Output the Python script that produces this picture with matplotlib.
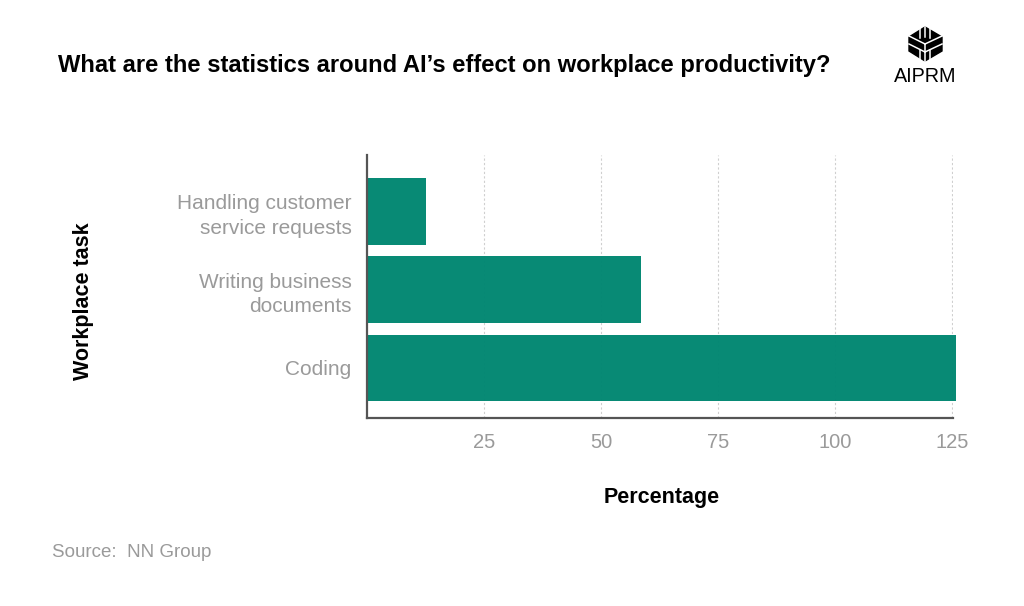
import matplotlib
matplotlib.use("Agg")
import matplotlib.pyplot as plt
from matplotlib.patches import Polygon

plt.rcParams['font.family'] = ['Liberation Sans', 'DejaVu Sans']

categories = ["Handling customer\nservice requests", "Writing business\ndocuments", "Coding"]
values = [12.5, 58.6, 125.8]
ticks = [25, 50, 75, 100, 125]

W, H = 1024, 606
fig = plt.figure(figsize=(W/100, H/100), dpi=100, facecolor='white')
ax = fig.add_axes([367/W, 1-418/H, (953-367)/W, (418-155)/H])
GREEN = '#008671'
GREY = '#9a9a9a'
ax.set_xlim(0, 125.2)
ax.set_ylim(2.64, -0.72)
ax.barh(range(3), values, height=0.85, color=GREEN, alpha=0.97, clip_on=False, zorder=3)
ax.set_yticks(range(3))
ax.set_yticklabels(categories, fontsize=15, color=GREY, linespacing=1.36, ha='right')
ax.get_yticklabels()[0].set_verticalalignment('center_baseline')
ax.set_xticks(ticks)
ax.set_xticklabels([str(t) for t in ticks], fontsize=14.5, color=GREY)
ax.tick_params(axis='y', length=0, pad=11)
ax.tick_params(axis='x', length=0, pad=10.5)
ax.grid(axis='x', color='#cfcfcf', lw=0.8, ls=(0, (2, 2)), zorder=1)
ax.set_axisbelow(True)
for s in ('top', 'right'):
    ax.spines[s].set_visible(False)
for s in ('left', 'bottom'):
    ax.spines[s].set_color('#555555')
    ax.spines[s].set_linewidth(1.6)
    ax.spines[s].set_zorder(4)

fig.text(58/W, 1-65.5/H, "What are the statistics around AI’s effect on workplace productivity?",
         fontsize=17.1, fontweight='bold', color='black', va='center', ha='left')
fig.text(83/W, 1-301/H, "Workplace task", fontsize=15.5, fontweight='bold', rotation=90,
         va='center', ha='center', color='black')
fig.text(662/W, 1-498/H, "Percentage", fontsize=15.5, fontweight='bold', va='center', ha='center', color='black')
fig.text(52/W, 1-552.5/H, "Source:  NN Group", fontsize=13.5, color=GREY, va='center', ha='left')
fig.text(925.5/W, 1-77/H, "AIPRM", fontsize=14.2, color='black', va='center', ha='center')

# logo mark, in figure pixels
logo = fig.add_axes([0, 0, 1, 1], facecolor='none')
logo.set_xlim(0, W); logo.set_ylim(H, 0); logo.axis('off')
logo.add_patch(Polygon([(925, 27), (942, 37), (942, 51), (925, 61), (909, 51), (909, 37)], closed=True, color='black'))
for a, b in [((925, 44), (925, 62)), ((925, 44), (909, 36)), ((925, 44), (942, 36)),
             ((920, 28), (920, 38)), ((930, 28), (930, 38)), ((925, 27), (925, 37)),
             ((909, 44), (925, 52)), ((942, 44), (925, 52)),
             ((920, 50), (920, 60)), ((930, 50), (930, 60))]:
    logo.plot([a[0], b[0]], [a[1], b[1]], color='white', lw=1.1)

fig.savefig('out.png', dpi=100, facecolor='white')
